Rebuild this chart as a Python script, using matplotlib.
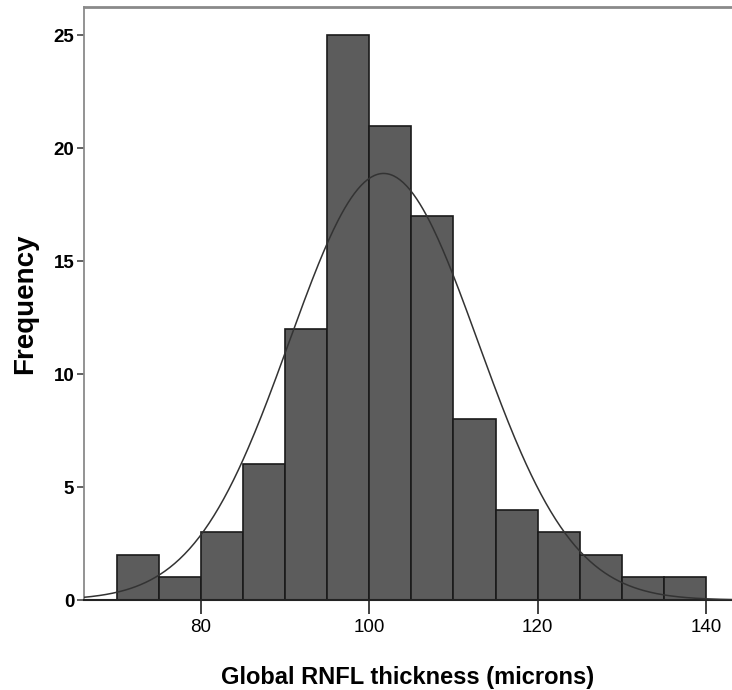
import numpy as np
import matplotlib
matplotlib.use('Agg')
from matplotlib import pyplot as plt

# histogram of global RNFL thickness, 5 micron bins
bin_edges = [70, 75, 80, 85, 90, 95, 100, 105, 110, 115, 120, 125, 130, 135, 140]
counts = [2, 1, 3, 6, 12, 25, 21, 17, 8, 4, 3, 2, 1, 1]

# fitted normal curve
fit_mean = 101.7
fit_sd = 11.2

x_ticks = [80, 100, 120, 140]
y_ticks = [0, 5, 10, 15, 20, 25]

plt.rcParams['font.family'] = ['Liberation Sans', 'DejaVu Sans']

fig = plt.figure(figsize=(7.32, 6.90), dpi=100)
ax = fig.add_axes([0.1148, 0.1304, 0.8852, 0.8596])

widths = np.diff(bin_edges)
ax.bar(bin_edges[:-1], counts, width=widths, align='edge',
       color='#5c5c5c', edgecolor='#1a1a1a', linewidth=1.2, zorder=2)

n = sum(counts)
bw = widths[0]
xs = np.linspace(66, 143.5, 400)
ys = n * bw / (fit_sd * np.sqrt(2 * np.pi)) * np.exp(-0.5 * ((xs - fit_mean) / fit_sd) ** 2)
ax.plot(xs, ys, color='#333333', linewidth=1.1, zorder=3)

ax.set_xlim(66.1, 143.1)
ax.set_ylim(0, 26.25)
ax.set_xticks(x_ticks)
ax.set_yticks(y_ticks)

ax.spines['right'].set_visible(False)
ax.spines['left'].set_color('#8a8a8a')
ax.spines['left'].set_linewidth(1.3)
ax.spines['top'].set_color('#8a8a8a')
ax.spines['top'].set_linewidth(2)
ax.spines['bottom'].set_color('#222222')
ax.spines['bottom'].set_linewidth(1.5)

ax.tick_params(axis='y', length=5, width=1.3, color='#555555', labelsize=13.5, pad=2)
ax.tick_params(axis='x', length=10, width=1.3, color='#333333', labelsize=13.5, pad=4)
for lab in ax.get_yticklabels():
    lab.set_fontweight('bold')

ax.set_ylabel('Frequency', fontsize=20, fontweight='bold', labelpad=11)
ax.set_xlabel('Global RNFL thickness (microns)', fontsize=17, fontweight='bold', labelpad=21)

fig.savefig('out.png', dpi=100)
plt.close(fig)
